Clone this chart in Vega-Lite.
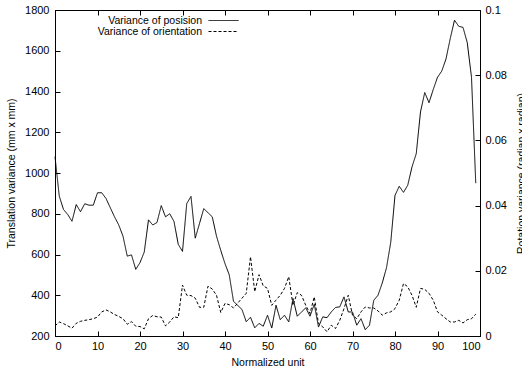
{
  "$schema": "https://vega.github.io/schema/vega-lite/v6.json",
  "width": 425,
  "height": 326,
  "autosize": {"type": "none"},
  "padding": {"left": 55, "top": 10, "right": 42, "bottom": 34},
  "background": "white",
  "config": {
    "font": "Liberation Sans",
    "view": {"stroke": "black", "strokeWidth": 1},
    "axis": {
      "grid": false,
      "domainColor": "black",
      "tickColor": "black",
      "labelColor": "black",
      "titleColor": "black",
      "labelFontSize": 11,
      "titleFontSize": 10.5,
      "titleFontWeight": "normal",
      "tickSize": -5,
      "tickWidth": 1,
      "domainWidth": 1
    },
    "legend": {
      "orient": "none",
      "legendX": 153,
      "padding": 0,
      "symbolType": "stroke",
      "symbolSize": 900,
      "symbolStrokeWidth": 1,
      "symbolStrokeColor": "black",
      "labelFontSize": 10.5,
      "labelColor": "black",
      "title": null
    }
  },
  "data": {
    "values": [
      {"unit": 0, "translation": 1080, "rotation": 0.0031},
      {"unit": 1, "translation": 887, "rotation": 0.0043},
      {"unit": 2, "translation": 821, "rotation": 0.0038},
      {"unit": 3, "translation": 796, "rotation": 0.0031},
      {"unit": 4, "translation": 763, "rotation": 0.0024},
      {"unit": 5, "translation": 845, "rotation": 0.0039},
      {"unit": 6, "translation": 810, "rotation": 0.0045},
      {"unit": 7, "translation": 849, "rotation": 0.0048},
      {"unit": 8, "translation": 842, "rotation": 0.005},
      {"unit": 9, "translation": 842, "rotation": 0.0053},
      {"unit": 10, "translation": 903, "rotation": 0.0058},
      {"unit": 11, "translation": 903, "rotation": 0.0074},
      {"unit": 12, "translation": 875, "rotation": 0.008},
      {"unit": 13, "translation": 830, "rotation": 0.0074},
      {"unit": 14, "translation": 785, "rotation": 0.0066},
      {"unit": 15, "translation": 745, "rotation": 0.006},
      {"unit": 16, "translation": 690, "rotation": 0.0053},
      {"unit": 17, "translation": 592, "rotation": 0.0036},
      {"unit": 18, "translation": 598, "rotation": 0.0044},
      {"unit": 19, "translation": 527, "rotation": 0.003},
      {"unit": 20, "translation": 560, "rotation": 0.0029},
      {"unit": 21, "translation": 612, "rotation": 0.0022},
      {"unit": 22, "translation": 770, "rotation": 0.0053},
      {"unit": 23, "translation": 745, "rotation": 0.0063},
      {"unit": 24, "translation": 757, "rotation": 0.0059},
      {"unit": 25, "translation": 840, "rotation": 0.0058},
      {"unit": 26, "translation": 785, "rotation": 0.0031},
      {"unit": 27, "translation": 800, "rotation": 0.0043},
      {"unit": 28, "translation": 762, "rotation": 0.0059},
      {"unit": 29, "translation": 650, "rotation": 0.0056},
      {"unit": 30, "translation": 615, "rotation": 0.0156},
      {"unit": 31, "translation": 850, "rotation": 0.0125},
      {"unit": 32, "translation": 885, "rotation": 0.0124},
      {"unit": 33, "translation": 680, "rotation": 0.0116},
      {"unit": 34, "translation": 752, "rotation": 0.0088},
      {"unit": 35, "translation": 825, "rotation": 0.0088},
      {"unit": 36, "translation": 805, "rotation": 0.0153},
      {"unit": 37, "translation": 785, "rotation": 0.0144},
      {"unit": 38, "translation": 690, "rotation": 0.0125},
      {"unit": 39, "translation": 620, "rotation": 0.0072},
      {"unit": 40, "translation": 555, "rotation": 0.01},
      {"unit": 41, "translation": 500, "rotation": 0.0096},
      {"unit": 42, "translation": 370, "rotation": 0.0086},
      {"unit": 43, "translation": 350, "rotation": 0.0101},
      {"unit": 44, "translation": 330, "rotation": 0.0116},
      {"unit": 45, "translation": 270, "rotation": 0.0131},
      {"unit": 46, "translation": 292, "rotation": 0.0243},
      {"unit": 47, "translation": 240, "rotation": 0.0136},
      {"unit": 48, "translation": 262, "rotation": 0.0188},
      {"unit": 49, "translation": 248, "rotation": 0.0154},
      {"unit": 50, "translation": 302, "rotation": 0.0146},
      {"unit": 51, "translation": 239, "rotation": 0.0094},
      {"unit": 52, "translation": 351, "rotation": 0.011},
      {"unit": 53, "translation": 280, "rotation": 0.0125},
      {"unit": 54, "translation": 302, "rotation": 0.0146},
      {"unit": 55, "translation": 269, "rotation": 0.0182},
      {"unit": 56, "translation": 384, "rotation": 0.0094},
      {"unit": 57, "translation": 297, "rotation": 0.0133},
      {"unit": 58, "translation": 318, "rotation": 0.0125},
      {"unit": 59, "translation": 338, "rotation": 0.0094},
      {"unit": 60, "translation": 297, "rotation": 0.0069},
      {"unit": 61, "translation": 356, "rotation": 0.012},
      {"unit": 62, "translation": 244, "rotation": 0.0038},
      {"unit": 63, "translation": 294, "rotation": 0.0028},
      {"unit": 64, "translation": 290, "rotation": 0.0013},
      {"unit": 65, "translation": 318, "rotation": 0.0033},
      {"unit": 66, "translation": 340, "rotation": 0.0023},
      {"unit": 67, "translation": 343, "rotation": 0.0048},
      {"unit": 68, "translation": 392, "rotation": 0.0084},
      {"unit": 69, "translation": 318, "rotation": 0.0125},
      {"unit": 70, "translation": 318, "rotation": 0.0064},
      {"unit": 71, "translation": 253, "rotation": 0.0053},
      {"unit": 72, "translation": 285, "rotation": 0.0074},
      {"unit": 73, "translation": 231, "rotation": 0.0089},
      {"unit": 74, "translation": 253, "rotation": 0.0086},
      {"unit": 75, "translation": 375, "rotation": 0.0086},
      {"unit": 76, "translation": 400, "rotation": 0.0077},
      {"unit": 77, "translation": 460, "rotation": 0.0064},
      {"unit": 78, "translation": 535, "rotation": 0.0071},
      {"unit": 79, "translation": 660, "rotation": 0.0074},
      {"unit": 80, "translation": 890, "rotation": 0.0084},
      {"unit": 81, "translation": 935, "rotation": 0.011},
      {"unit": 82, "translation": 905, "rotation": 0.0161},
      {"unit": 83, "translation": 940, "rotation": 0.0151},
      {"unit": 84, "translation": 1030, "rotation": 0.0125},
      {"unit": 85, "translation": 1095, "rotation": 0.0088},
      {"unit": 86, "translation": 1300, "rotation": 0.0146},
      {"unit": 87, "translation": 1395, "rotation": 0.0143},
      {"unit": 88, "translation": 1345, "rotation": 0.0131},
      {"unit": 89, "translation": 1410, "rotation": 0.011},
      {"unit": 90, "translation": 1470, "rotation": 0.0074},
      {"unit": 91, "translation": 1500, "rotation": 0.0064},
      {"unit": 92, "translation": 1560, "rotation": 0.0053},
      {"unit": 93, "translation": 1660, "rotation": 0.0043},
      {"unit": 94, "translation": 1750, "rotation": 0.0043},
      {"unit": 95, "translation": 1720, "rotation": 0.0048},
      {"unit": 96, "translation": 1715, "rotation": 0.004},
      {"unit": 97, "translation": 1640, "rotation": 0.005},
      {"unit": 98, "translation": 1470, "rotation": 0.0053},
      {"unit": 99, "translation": 950, "rotation": 0.0067}
    ]
  },
  "layer": [
    {
      "mark": {"type": "line", "color": "black", "strokeWidth": 1},
      "encoding": {
        "x": {
          "field": "unit", "type": "quantitative",
          "scale": {"domain": [0, 100], "nice": false},
          "axis": {"orient": "bottom", "values": [0, 10, 20, 30, 40, 50, 60, 70, 80, 90, 100], "title": "Normalized unit", "labelPadding": 9, "titlePadding": 6}
        },
        "y": {
          "field": "translation", "type": "quantitative",
          "scale": {"domain": [200, 1800], "nice": false, "zero": false},
          "axis": {"orient": "left", "values": [200, 400, 600, 800, 1000, 1200, 1400, 1600, 1800], "format": "d", "title": "Translation variance (mm x mm)", "labelPadding": 11, "titlePadding": 8}
        },
        "strokeDash": {
          "datum": "Variance of posision", "type": "nominal",
          "scale": {"domain": ["Variance of posision"], "range": [[1, 0]]},
          "legend": {"legendY": -5, "encode": {"labels": {"update": {"x": {"value": -6}, "align": {"value": "right"}}}}}
        }
      }
    },
    {
      "mark": {"type": "line", "color": "black", "strokeWidth": 1},
      "encoding": {
        "x": {
          "field": "unit", "type": "quantitative",
          "axis": {"orient": "top", "values": [0, 10, 20, 30, 40, 50, 60, 70, 80, 90, 100], "labels": false, "title": null, "domain": false}
        },
        "y": {
          "field": "rotation", "type": "quantitative",
          "scale": {"domain": [0, 0.1], "nice": false},
          "axis": {"orient": "right", "values": [0, 0.02, 0.04, 0.06, 0.08, 0.1], "labelExpr": "format(datum.value, '~g')", "title": "Rotation variance (radian x radian)", "titleAngle": -90, "labelPadding": 10, "titlePadding": 20}
        },
        "strokeDash": {
          "datum": "Variance of orientation", "type": "nominal",
          "scale": {"domain": ["Variance of orientation"], "range": [[3, 2]]},
          "legend": {"legendY": 6, "encode": {"labels": {"update": {"x": {"value": -6}, "align": {"value": "right"}}}}}
        }
      }
    }
  ],
  "resolve": {
    "scale": {"y": "independent", "strokeDash": "independent"},
    "axis": {"x": "independent"},
    "legend": {"strokeDash": "independent"}
  }
}
